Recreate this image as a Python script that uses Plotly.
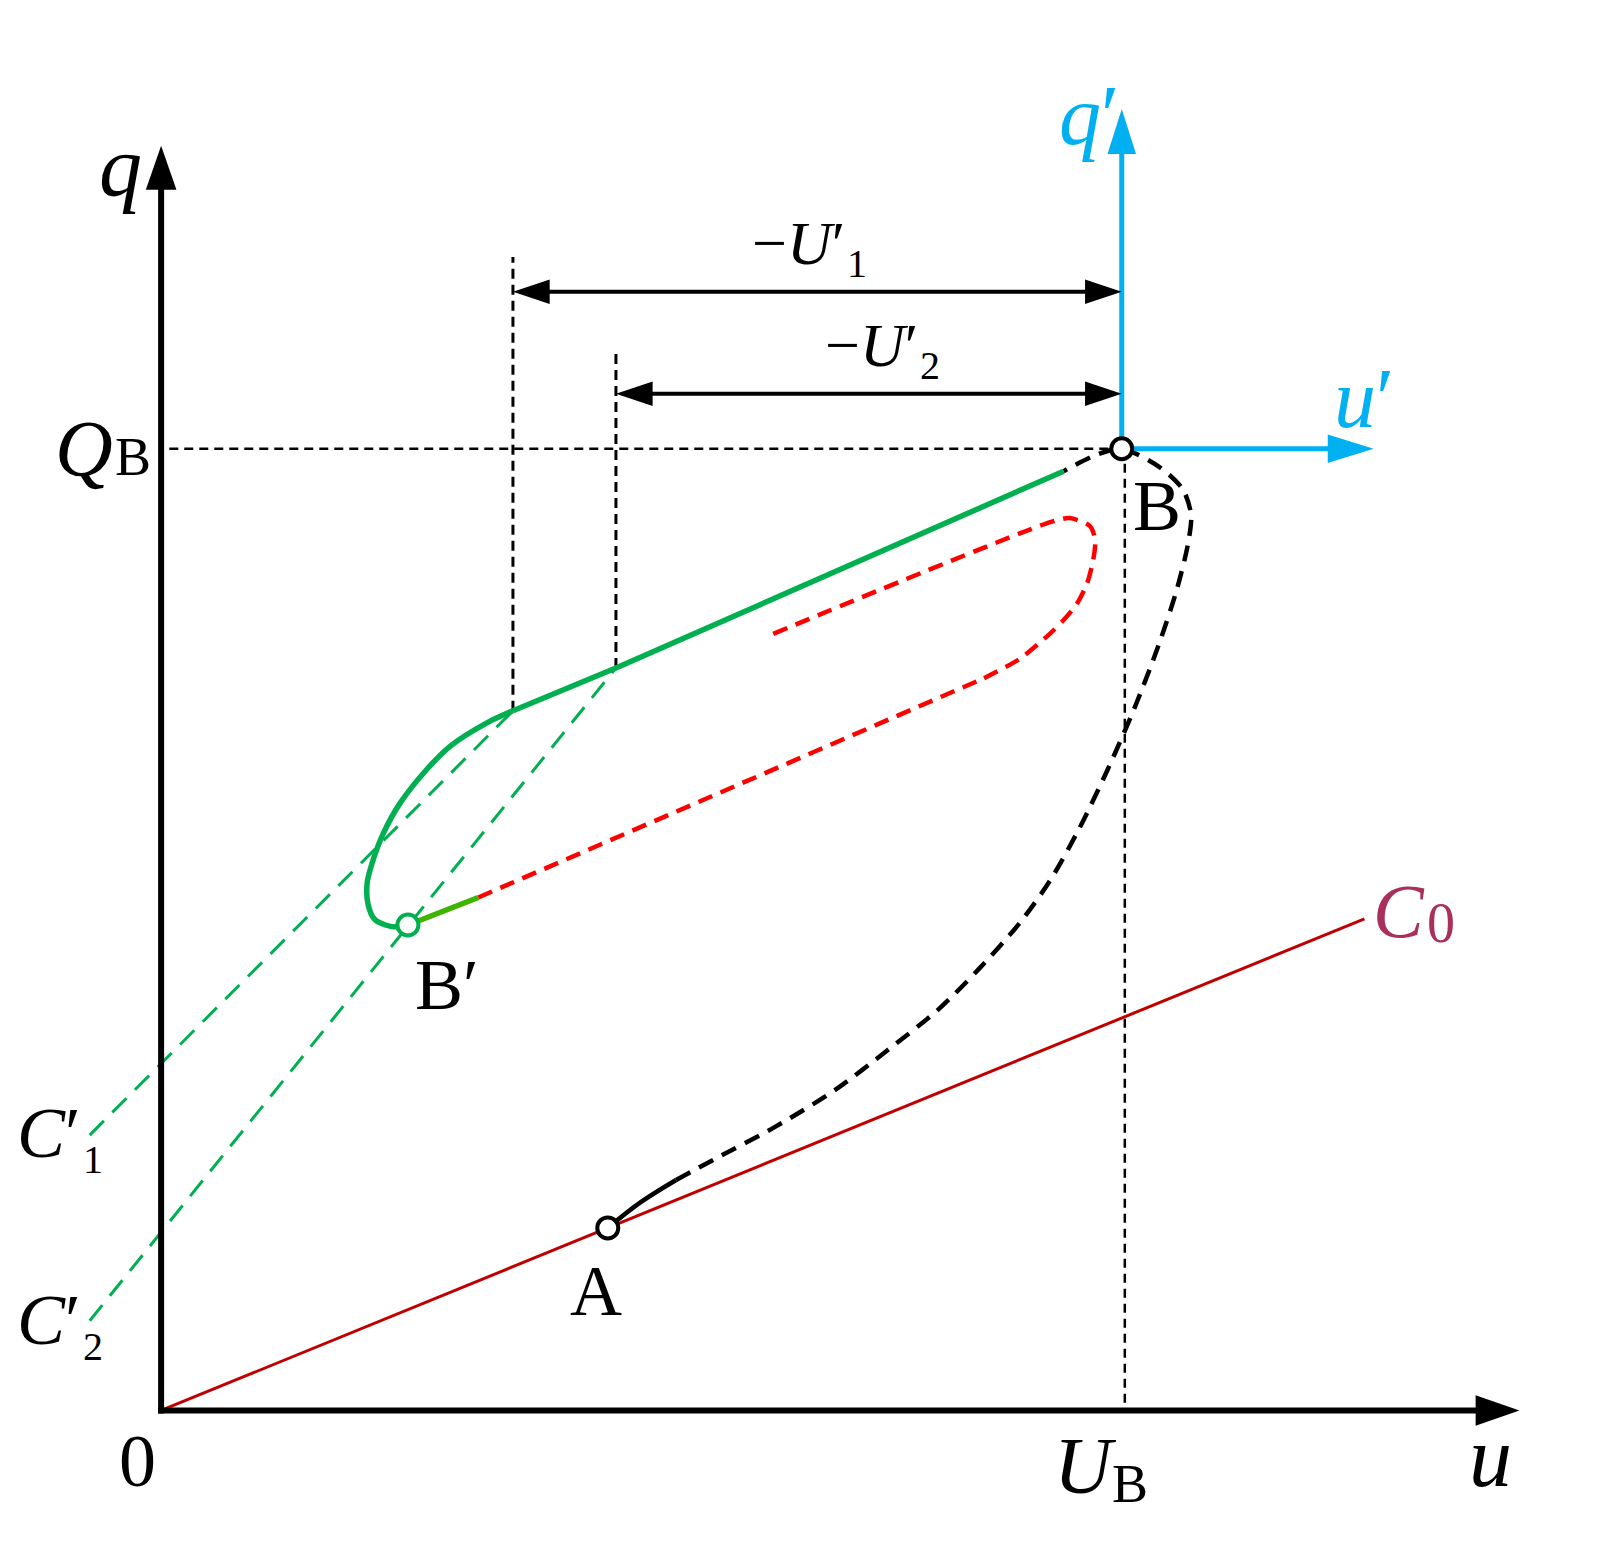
import plotly.graph_objects as go

# schematic u-q plane, origin at 0 (arbitrary units)
U_B, Q_B = 942, 943
A_pt = [438, 179]
Bp_pt = [242, 476]
U1_start = 345   # u at which -U1' starts
U2_start = 446   # u at which -U2' starts

c0_u = [0, 1180]
c0_q = [0, 482]

# A -> B transition (first part solid, rest dashed)
a_solid_u = [438, 470, 505]
a_solid_q = [179, 204, 226]
trans_u = [505, 542, 602, 662, 712, 762, 802, 842, 872, 900, 928, 955, 978, 996, 1007, 1010, 1002, 979, 942, 917, 885]
trans_q = [226, 246, 278, 315, 353, 393, 433, 478, 520, 570, 628, 690, 750, 805, 850, 878, 903, 925, 943, 937, 921]

# discharge curve B -> B' (straight part, then bend)
green_line_u = [885, 446, 345]
green_line_q = [921, 728, 686]
green_bend_u = [345, 319, 283, 260, 234, 218, 207, 202, 203, 209, 220, 233, 242]
green_bend_q = [686, 674, 651, 628, 595, 566, 537, 517, 496, 482, 476, 474, 476]

lgreen_u = [242, 311]
lgreen_q = [476, 503]

# recharge path (dashed red)
red_line_u = [311, 807]
red_line_q = [503, 718]
red_loop_u = [807, 842, 872, 885, 898, 908, 914, 916, 911, 891, 872, 599]
red_loop_q = [718, 737, 762, 775, 791, 811, 834, 853, 867, 875, 871, 761]

c1_u = [-70, U1_start]
c1_q = [270, 686]
c2_u = [-70, U2_start]
c2_q = [88, 728]

q_axis_top = 1240
u_axis_end = 1332
qp_top = 1276
up_end = 1189
dim1_q = 1097
dim2_q = 997
v1_top = 1131
v2_top = 1036

BLACK = '#000000'
BLUE = '#00B0F0'
GREEN = '#00B050'
LGREEN = '#3FB400'
RED = '#FF0000'
DRED = '#C00000'
C0_TXT = '#A8305A'
FONT = 'Liberation Serif'


def head(tu, tq, du, dq, length, half):
    bu, bq = tu - du * length, tq - dq * length
    pu, pq = -dq, du
    return (f'M {tu} {tq} L {bu + pu * half} {bq + pq * half} '
            f'L {bu - pu * half} {bq - pq * half} Z')


fig = go.Figure()


def line(u, q, color, width, dash='solid', shape='linear', smooth=1.0):
    kw = dict(color=color, width=width, dash=dash, shape=shape)
    if shape == 'spline':
        kw['smoothing'] = smooth
    fig.add_trace(go.Scatter(x=u, y=q, mode='lines', line=kw, hoverinfo='skip'))


# guide lines
line([8, U_B], [Q_B, Q_B], BLACK, 2.5, '9px,6px')
line([U_B + 3, U_B + 3], [Q_B, 0], BLACK, 2.5, '9px,6px')
line([U1_start, U1_start], [green_line_q[2], v1_top], BLACK, 3, '10px,6px')
line([U2_start, U2_start], [green_line_q[1], v2_top], BLACK, 3, '10px,6px')

# C lines
line(c0_u, c0_q, DRED, 3)
line(c1_u, c1_q, GREEN, 3, '20px,12px')
line(c2_u, c2_q, GREEN, 3, '20px,12px')

# curves
line(a_solid_u, a_solid_q, BLACK, 4.5, shape='spline')
line(trans_u, trans_q, BLACK, 4.5, '16px,10px', 'spline', 0.8)
line(red_line_u, red_line_q, RED, 4.5, '15px,9px')
line(red_loop_u, red_loop_q, RED, 4.5, '15px,9px', 'spline', 0.7)
line(green_line_u, green_line_q, GREEN, 5.5)
line(green_bend_u, green_bend_q, GREEN, 5.5, shape='spline', smooth=0.8)
line(lgreen_u, lgreen_q, LGREEN, 5.5)

# main axes
line([0, 0], [-3, q_axis_top - 40], BLACK, 6)
line([-3, u_axis_end - 40], [0, 0], BLACK, 6)
# blue axes
line([U_B, U_B], [Q_B, qp_top - 40], BLUE, 5)
line([U_B, up_end - 40], [Q_B, Q_B], BLUE, 5)
# dimension arrows
line([U1_start + 30, U_B - 30], [dim1_q, dim1_q], BLACK, 4)
line([U2_start + 30, U_B - 30], [dim2_q, dim2_q], BLACK, 4)

shapes = [
    (head(0, q_axis_top, 0, 1, 43, 15), BLACK),
    (head(u_axis_end, 0, 1, 0, 43, 15), BLACK),
    (head(U_B, qp_top, 0, 1, 44, 14), BLUE),
    (head(up_end, Q_B, 1, 0, 45, 14), BLUE),
    (head(U_B, dim1_q, 1, 0, 36, 12), BLACK),
    (head(U1_start, dim1_q, -1, 0, 36, 12), BLACK),
    (head(U_B, dim2_q, 1, 0, 36, 12), BLACK),
    (head(U2_start, dim2_q, -1, 0, 36, 12), BLACK),
]
for p, c in shapes:
    fig.add_shape(type='path', path=p, fillcolor=c, line_width=0, xref='x', yref='y')

# state points
fig.add_trace(go.Scatter(x=[A_pt[0], U_B], y=[A_pt[1], Q_B], mode='markers',
                         marker=dict(symbol='circle', size=21, color='white',
                                     line=dict(color=BLACK, width=4)), hoverinfo='skip'))
fig.add_trace(go.Scatter(x=[Bp_pt[0]], y=[Bp_pt[1]], mode='markers',
                         marker=dict(symbol='circle', size=21, color='white',
                                     line=dict(color=GREEN, width=4)), hoverinfo='skip'))


def label(u, q, text, size, color=BLACK):
    fig.add_annotation(x=u, y=q, text=text, showarrow=False, xanchor='center', yanchor='middle',
                       font=dict(family=FONT, size=size, color=color))


label(-40, 1220, '<i>q</i>', 86)
label(1304, -46, '<i>u</i>', 86)
label(-23, -50, '0', 74)
label(-76, 943, '<i>Q</i>', 80)
label(-28, 935, 'B', 54)
label(906, -54, '<i>U</i>', 80)
label(950, -72, 'B', 54)
label(977, 887, 'B', 72)
label(280, 417, 'B′', 72)
label(426, 117, 'A', 72)
label(1214, 490, '<i>C</i>', 76, C0_TXT)
label(1255, 478, '0', 56, C0_TXT)
label(-110, 272, '<i>C</i>′', 72)
label(-67, 246, '1', 40)
label(-110, 89, '<i>C</i>′', 72)
label(-67, 63, '2', 40)
label(910, 1270, '<i>q</i>′', 84, BLUE)
label(1180, 992, '<i>u</i>′', 84, BLUE)
label(625, 1145, '−<i>U</i>′', 62)
label(682, 1125, '1', 40)
label(697, 1045, '−<i>U</i>′', 62)
label(754, 1025, '2', 40)

fig.update_layout(
    width=1599, height=1542,
    margin=dict(l=0, r=0, t=0, b=0),
    paper_bgcolor='white', plot_bgcolor='white',
    showlegend=False,
    xaxis=dict(range=[-158, 1410], visible=False),
    yaxis=dict(range=[-129, 1383], visible=False),
)

fig.write_html("out.html", config={'displayModeBar': False},
               post_script="document.body.style.margin='0';")
